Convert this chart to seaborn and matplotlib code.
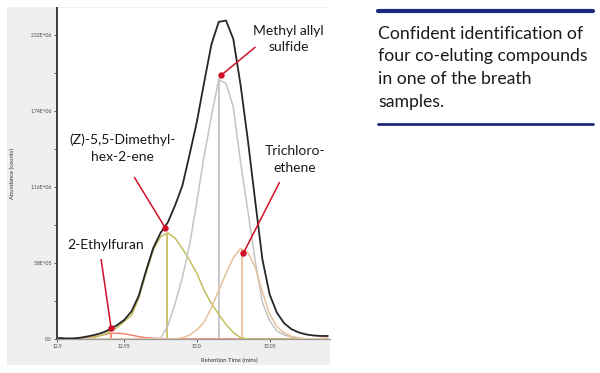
import matplotlib
matplotlib.use("Agg")
import matplotlib.pyplot as plt
import seaborn as sns
import pandas as pd
from matplotlib.patches import Rectangle
from matplotlib.lines import Line2D

# ---------------- data (abundance in millions of counts) ----------------
rt = [12.905, 12.910, 12.915, 12.920, 12.925, 12.930, 12.935, 12.940, 12.945, 12.950,
      12.955, 12.960, 12.965, 12.970, 12.975, 12.980, 12.985, 12.990, 12.995, 13.000,
      13.005, 13.010, 13.015, 13.020, 13.025, 13.030, 13.035, 13.040, 13.045, 13.050,
      13.055, 13.060, 13.065, 13.070, 13.075, 13.080, 13.085, 13.090]

total = [0.008, 0.004, 0.005, 0.010, 0.020, 0.032, 0.048, 0.072, 0.105, 0.145,
         0.210, 0.330, 0.520, 0.695, 0.810, 0.890, 1.020, 1.170, 1.410, 1.660,
         1.960, 2.250, 2.420, 2.430, 2.290, 1.940, 1.520, 1.060, 0.610, 0.340,
         0.200, 0.120, 0.075, 0.050, 0.035, 0.027, 0.023, 0.023]

ethylfuran = [0.0, 0.0, 0.0, 0.0, 0.008, 0.018, 0.030, 0.042, 0.044, 0.040,
              0.030, 0.018, 0.010, 0.006, 0.003, 0.001, 0.0, 0.0, 0.0, 0.0,
              0.0, 0.0, 0.0, 0.0, 0.0, 0.0, 0.0, 0.0, 0.0, 0.0,
              0.0, 0.0, 0.0, 0.0, 0.0, 0.0, 0.003, 0.006]

dimethylhexene = [0.0, 0.0, 0.0, 0.0, 0.005, 0.015, 0.030, 0.055, 0.085, 0.135,
                  0.180, 0.310, 0.500, 0.680, 0.780, 0.810, 0.770, 0.690, 0.600, 0.500,
                  0.370, 0.270, 0.190, 0.110, 0.050, 0.010, 0.0, 0.0, 0.0, 0.0,
                  0.0, 0.0, 0.0, 0.0, 0.0, 0.0, 0.0, 0.0]

methyl_allyl_sulfide = [0.0, 0.0, 0.0, 0.0, 0.0, 0.0, 0.0, 0.0, 0.0, 0.0,
                        0.0, 0.0, 0.0, 0.0, 0.005, 0.100, 0.270, 0.470, 0.720, 1.050,
                        1.400, 1.700, 1.980, 1.950, 1.770, 1.350, 0.980, 0.600, 0.280, 0.140,
                        0.060, 0.030, 0.015, 0.005, 0.0, 0.0, 0.0, 0.0]

trichloroethene = [0.0, 0.0, 0.0, 0.0, 0.0, 0.0, 0.0, 0.0, 0.0, 0.0,
                   0.0, 0.0, 0.0, 0.0, 0.0, 0.0, 0.0, 0.010, 0.030, 0.070,
                   0.130, 0.240, 0.370, 0.500, 0.620, 0.690, 0.660, 0.550, 0.360, 0.190,
                   0.095, 0.045, 0.020, 0.008, 0.0, 0.0, 0.0, 0.0]

# component apex sticks
apex_names = ["2-Ethylfuran", "Dimethylhexene", "Methyl allyl sulfide", "Trichloroethene"]
apex_rt = [12.941, 12.9797, 13.0155, 13.0307]
apex_height = [0.044, 0.81, 1.99, 0.69]

# annotations: label, dot point, line start point, text position
ann_labels = ["Methyl allyl\nsulfide", "(Z)-5,5-Dimethyl-\nhex-2-ene", "Trichloro-\nethene", "2-Ethylfuran"]
ann_dot_rt = [13.0169, 12.9783, 13.032, 12.941]
ann_dot_y = [2.015, 0.847, 0.656, 0.084]
ann_line_rt = [13.0403, 12.9569, 13.0569, 12.9341]
ann_line_y = [2.229, 1.236, 1.198, 0.611]
ann_text_rt = [13.0631, 12.9486, 13.0672, 12.9369]
ann_text_y = [2.29, 1.455, 1.37, 0.717]

yticks = [0.0, 0.58, 1.16, 1.74, 2.32]
ytick_labels = ["0.0", "5.8E+05", "1.16E+06", "1.74E+06", "2.32E+06"]
yminor = [0.29, 0.87, 1.45, 2.03]
xticks = [12.9038, 12.95, 13.0, 13.05]
xtick_labels = ["12.9", "12.95", "13.0", "13.05"]

side_text = "Confident identification of\nfour co-eluting compounds\nin one of the breath\nsamples."

# ---------------- figure ----------------
sns.set_style("white")
plt.rcParams['font.family'] = ['Lato', 'DejaVu Sans']

fig = plt.figure(figsize=(6.0, 3.73), dpi=100)
fig.patch.set_facecolor("white")

# grey panel behind the chart
panel = Rectangle((7 / 600, 1 - 365 / 373), 323 / 600, 358 / 373,
                  transform=fig.transFigure, facecolor="#efefef",
                  edgecolor="none", zorder=-5)
fig.add_artist(panel)

ax = fig.add_axes([57 / 600, 1 - 339 / 373, 273 / 600, 331 / 373])
ax.set_zorder(2)
ax.set_facecolor("white")

series = {
    "2-Ethylfuran": ethylfuran,
    "Dimethylhexene": dimethylhexene,
    "Methyl allyl sulfide": methyl_allyl_sulfide,
    "Trichloroethene": trichloroethene,
    "Total": total,
}
colors = {
    "2-Ethylfuran": "#f4846e",
    "Dimethylhexene": "#c4be5e",
    "Methyl allyl sulfide": "#c4c4c4",
    "Trichloroethene": "#e6c29c",
    "Total": "#262626",
}
rows = []
for name, vals in series.items():
    for t, v in zip(rt, vals):
        rows.append({"rt": t, "abundance": v, "series": name})
df = pd.DataFrame(rows)

# sticks first
for name, t, h in zip(apex_names, apex_rt, apex_height):
    ax.vlines(t, 0, h, color=colors[name], lw=1.3, zorder=2)

sns.lineplot(data=df, x="rt", y="abundance", hue="series", palette=colors,
             estimator=None, legend=False, ax=ax, lw=1.1, zorder=3)
for line in ax.lines:
    if line.get_color() == "#262626":
        line.set_linewidth(1.3)

red = "#d0102a"
for lab, dx, dy, lx, ly, tx, ty in zip(ann_labels, ann_dot_rt, ann_dot_y, ann_line_rt,
                                        ann_line_y, ann_text_rt, ann_text_y):
    ax.plot([lx, dx], [ly, dy], color=red, lw=1.1, zorder=5, solid_capstyle="butt")
    ax.plot([dx], [dy], "o", color=red, ms=3.6, zorder=6)
    ax.text(tx, ty, lab, ha="center", va="center", fontsize=10, color="#1a1a1a",
            linespacing=1.45, zorder=7)

ax.set_xlim(12.9038, 13.0915)
ax.set_ylim(0, 2.526)
ax.set_xticks(xticks)
ax.set_xticklabels(xtick_labels)
ax.set_yticks(yticks)
ax.set_yticklabels(ytick_labels)
ax.set_yticks(yminor, minor=True)
ax.tick_params(axis="both", which="major", labelsize=3.6, length=2, width=0.6,
               colors="#444444", pad=1.5, direction="out")
ax.tick_params(axis="y", which="minor", length=2, width=0.6, colors="#444444", left=True)
ax.tick_params(axis="x", bottom=True)
ax.tick_params(axis="y", left=True)
ax.set_xlabel("Retention Time (mins)", fontsize=4.2, color="#333333")
ax.set_ylabel("Abundance (counts)", fontsize=4.2, color="#333333")
ax.xaxis.set_label_coords(0.63, -19 / 331)
ax.yaxis.set_label_coords(-42 / 273, 0.5)

for s in ("top", "right"):
    ax.spines[s].set_visible(False)
ax.spines["left"].set_color("#3a3a3a")
ax.spines["left"].set_linewidth(1.4)
ax.spines["bottom"].set_color("#9a9a9a")
ax.spines["bottom"].set_linewidth(0.9)

# right-hand text block with navy rules
navy = "#1c2a7c"
fig.add_artist(Line2D([378 / 600, 593 / 600], [1 - 11 / 373, 1 - 11 / 373],
                      transform=fig.transFigure, color=navy, lw=3.0))
fig.add_artist(Line2D([378 / 600, 593 / 600], [1 - 124 / 373, 1 - 124 / 373],
                      transform=fig.transFigure, color=navy, lw=2.0))
fig.text(378 / 600, 1 - 26 / 373, side_text, ha="left", va="top", fontsize=12.7,
         color="#1a1a1a", linespacing=1.5)

fig.savefig("out.png", dpi=100, facecolor="white")
